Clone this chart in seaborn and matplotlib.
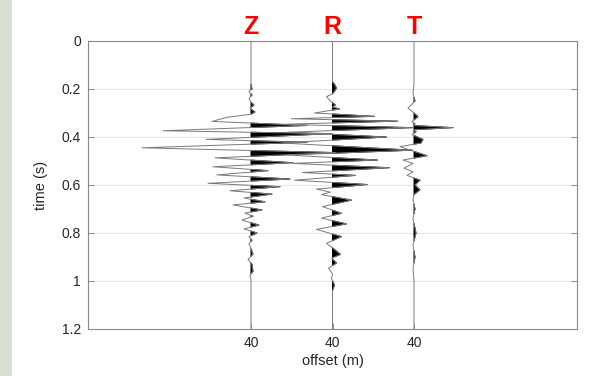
import numpy as np
import pandas as pd
import matplotlib
matplotlib.use("Agg")
import matplotlib.pyplot as plt
import seaborn as sns
from matplotlib.patches import Rectangle

# ---------------- data ----------------
components = ["Z", "R", "T"]
offset_labels = ["40", "40", "40"]
y_ticks = [0, 0.2, 0.4, 0.6, 0.8, 1.0, 1.2]
y_tick_labels = ["0", "0.2", "0.4", "0.6", "0.8", "1", "1.2"]

# time (s) / amplitude (arbitrary units) at the wiggle extrema
z_time = [0.0, 0.18, 0.20, 0.21, 0.225, 0.24, 0.255, 0.267, 0.28, 0.296, 0.305,
          0.318, 0.335, 0.352, 0.374, 0.386, 0.41, 0.422, 0.445, 0.465, 0.487,
          0.507, 0.524, 0.54, 0.558, 0.575, 0.593, 0.607, 0.624, 0.638, 0.654,
          0.67, 0.683, 0.704, 0.717, 0.73, 0.746, 0.767, 0.783, 0.80, 0.815,
          0.83, 0.845, 0.865, 0.888, 0.91, 0.93, 0.96, 0.975, 0.995, 1.2]
z_amp = [0, 0, 1, -2, 1, -2, 0, 3, -1, 4, 0,
         -24, -39, 56, -88, 81, -45, 56, -109, 85, -36,
         42, -38, 17, -34, 39, -43, 29, -21, 21, -7,
         14, -18, 11, -6, 2, -9, 8, -7, 6, -2,
         1, -2, 0, 2, -3, 1, 2, -1, 0, 0]

r_time = [0.0, 0.17, 0.18, 0.196, 0.21, 0.22, 0.232, 0.25, 0.267, 0.275, 0.283,
          0.30, 0.314, 0.324, 0.334, 0.347, 0.361, 0.38, 0.40, 0.425, 0.455,
          0.475, 0.496, 0.51, 0.528, 0.548, 0.56, 0.58, 0.598, 0.617, 0.63,
          0.64, 0.663, 0.69, 0.718, 0.738, 0.762, 0.785, 0.815, 0.843, 0.865,
          0.889, 0.905, 0.925, 0.946, 0.97, 0.99, 1.017, 1.04, 1.2]
r_amp = [0, 0, 2, 4, 2, 0, -6, -2, 3, 0, 7,
         -18, 42, -41, 65, -50, 80, -45, 54, -50, 80,
         -45, 45, -40, 57, -30, 23, -38, 35, -16, -2,
         -11, 19, -10, 9, -11, 14, -16, 9, -6, 1,
         8, -1, 4, -4, 0, -1, 2, 0, 0]

t_time = [0.0, 0.18, 0.22, 0.25, 0.28, 0.30, 0.315, 0.336, 0.345, 0.352, 0.361,
          0.37, 0.378, 0.39, 0.41, 0.425, 0.44, 0.46, 0.478, 0.496, 0.51,
          0.53, 0.545, 0.56, 0.58, 0.60, 0.62, 0.64, 0.66, 0.70, 0.74,
          0.80, 0.85, 0.90, 0.95, 1.0, 1.2]
t_amp = [0, 0, -1, 1, -6, 0, 4, -2, 1, -1, 39,
         -1, 2, -2, 9, 7, -14, 0, 13, -11, -1,
         -10, -1, -7, 6, 1, 6, 0, -1, 1, -1,
         2, -1, 1, -1, 0, 0]

traces = [(z_time, z_amp), (r_time, r_amp), (t_time, t_amp)]

# ---------------- style ----------------
sns.set_style("white")
plt.rcParams["font.family"] = ["Liberation Sans", "DejaVu Sans"]

W, H = 596, 376
fig = plt.figure(figsize=(W / 100, H / 100), dpi=100)
fig.patch.set_facecolor("white")
# decorative background strip on the left edge
fig.patches.append(Rectangle((0, 0), 12 / W, 1, transform=fig.transFigure,
                             facecolor="#d7ded2", edgecolor="none", zorder=0))

ax = fig.add_axes([88 / W, 1 - 329 / H, (577 - 88) / W, (329 - 41) / H])

scale = 1 / 163.0  # amplitude units -> offset-axis units
positions = [1.0, 1.5, 2.0]

for gy in y_ticks[1:-1]:
    ax.axhline(gy, color="#e6e6e6", lw=0.8, zorder=0)

for pos, (tt, aa), name in zip(positions, traces, components):
    tt = np.asarray(tt, float)
    aa = np.asarray(aa, float) * scale
    df = pd.DataFrame({"time": tt, "x": pos + aa})
    ax.fill_betweenx(tt, pos, pos + aa, where=aa > 0, interpolate=True,
                     facecolor="black", edgecolor="black", lw=0.7, zorder=2)
    sns.lineplot(data=df, x="x", y="time", sort=False, estimator=None,
                 orient="y", color="#7a7a7a", lw=0.7, ax=ax, zorder=3)
    ax.text(pos, 1.2 * (27 - 41) / 288, name, color="red", fontsize=18,
            fontweight="bold", ha="center", va="center", clip_on=False)

ax.set_xlim(0, 3)
ax.set_ylim(1.2, 0)
ax.set_xticks(positions)
ax.set_xticklabels(offset_labels)
ax.set_yticks(y_ticks)
ax.set_yticklabels(y_tick_labels)
ax.set_xlabel("offset (m)", fontsize=10.5, color="#262626", labelpad=3)
ax.set_ylabel("time (s)", fontsize=10.5, color="#262626", labelpad=10)
ax.tick_params(axis="both", direction="in", length=4, width=0.6,
               colors="#808080", labelcolor="#262626", labelsize=10,
               left=True, right=True, bottom=True, top=False, pad=5)
for sp in ax.spines.values():
    sp.set_visible(True)
    sp.set_color("#8a8a8a")
    sp.set_linewidth(0.8)

fig.savefig("out.png", dpi=100, facecolor="white")
